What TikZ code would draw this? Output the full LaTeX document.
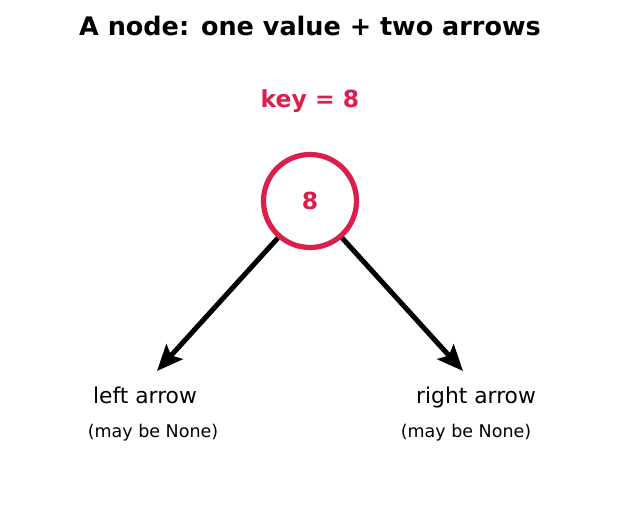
\documentclass[tikz,border=0pt]{standalone}
\usepackage{fontspec}
\setmainfont{DejaVu Sans}
\usetikzlibrary{arrows.meta}
\definecolor{keyColor}{RGB}{220,30,75}
\colorlet{background}{white}
\tikzset{
  keytext/.style={text=keyColor, font=\bfseries\fontsize{23.5}{28}\selectfont},
  childlabel/.style={font=\fontsize{21.8}{26}\selectfont, text height=1.6ex, text depth=.4ex},
  childnote/.style={font=\fontsize{17.5}{21}\selectfont},
  childarrow/.style={-{Stealth[length=26pt,width=22pt,inset=5pt]}, line width=5pt}
}

\begin{document}
\begin{tikzpicture}[x=1pt,y=-1pt]
      \fill[background] (0,0) rectangle (620,512);
      \useasboundingbox (0,0) rectangle (620,512);
        \node (title) at (310,26) {\bfseries\fontsize{25.5}{30}\selectfont A node: one value + two arrows};
        \node [keytext] (key) at (310,101.5) {key = 8};
      % the node itself
        \node [draw=keyColor, line width=5.2pt, circle, minimum size=93pt, inner sep=0pt, keytext] (root) at (310,201) {8};
         \coordinate (lefttip) at (157,371);
         \coordinate (righttip) at (463,371);
          \draw[childarrow] (root.-131) -- (lefttip);
          \draw[childarrow] (root.-49) -- (righttip);
       \node [childlabel] (leftlbl) at (145,400.5) {left arrow};
       \node [childnote] (leftnote) at (153,432.5) {(may be None)};
       \node [childlabel] (rightlbl) at (476,400.5) {right arrow};
       \node [childnote] (rightnote) at (466,432.5) {(may be None)};
\end{tikzpicture}
\end{document}
